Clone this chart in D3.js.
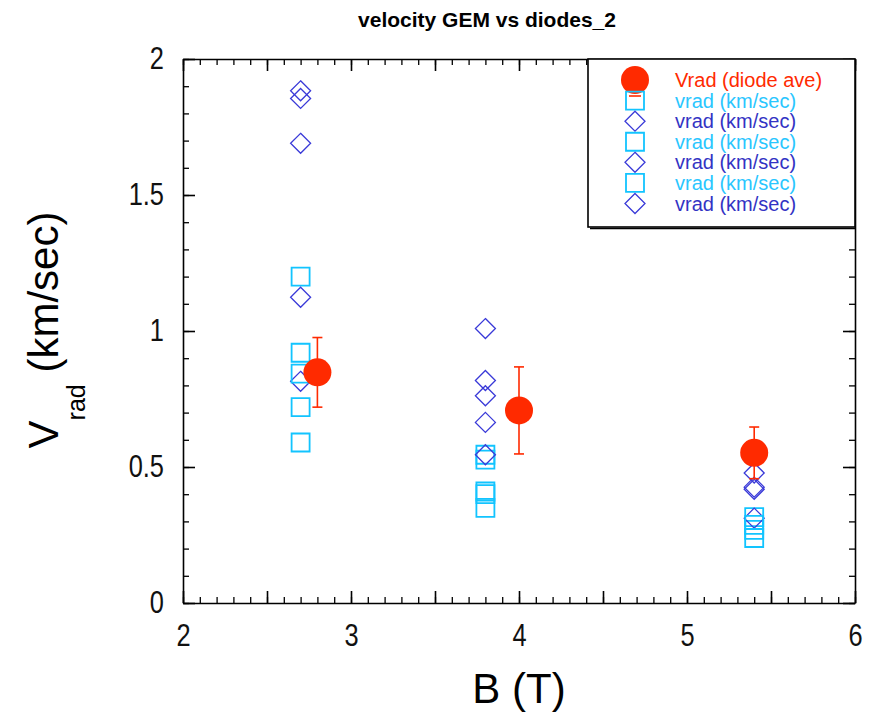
<html>
<head>
<script src="https://d3js.org/d3.v7.min.js"></script>
<style>
  body { margin: 0; background: #fff; }
  svg { display: block; font-family: "Liberation Sans", Arial, sans-serif; }
  .axis path, .axis line { stroke: #000; stroke-width: 1.6px; }
  .minor path { stroke: none; }
  .minor line { stroke: #000; stroke-width: 1.3px; }
  .axis text { font-size: 31px; fill: #111; }
</style>
</head>
<body>
<div id="chart"></div>
<script>

// --- data ---
var diodeB   = [2.8, 4.0, 5.4];
var diodeV   = [0.848, 0.708, 0.552];
var diodeErr = [0.128, 0.160, 0.095];

// three square series (light blue)
var sq1B = [2.7, 2.7, 3.8, 3.8, 5.4, 5.4];
var sq1V = [1.20, 0.72, 0.545, 0.41, 0.316, 0.269];
var sq2B = [2.7, 2.7, 3.8, 3.8, 5.4, 5.4];
var sq2V = [0.92, 0.59, 0.527, 0.35, 0.287, 0.239];
var sq3B = [2.7, 3.8];
var sq3V = [0.843, 0.40];

// three diamond series (blue)
var dm1B = [2.7, 2.7, 3.8, 3.8, 5.4, 5.4];
var dm1V = [1.883, 1.124, 1.009, 0.664, 0.478, 0.312];
var dm2B = [2.7, 2.7, 3.8, 3.8, 5.4, 5.4];
var dm2V = [1.855, 0.815, 0.818, 0.545, 0.418, 0.426];
var dm3B = [2.7, 3.8];
var dm3V = [1.69, 0.762];

var xTicks = [2, 3, 4, 5, 6];
var yTicks = [0, 0.5, 1, 1.5, 2];
var yTickLabels = ["0", "0.5", "1", "1.5", "2"];

var legendLabels = ["Vrad (diode ave)", "vrad (km/sec)", "vrad (km/sec)", "vrad (km/sec)",
                    "vrad (km/sec)", "vrad (km/sec)", "vrad (km/sec)"];

var red = "#ff2a00", cyan = "#12c4ff", blue = "#3a3ad8";

var width = 873, height = 714;
var pLeft = 183, pRight = 855, pTop = 59, pBottom = 603;
var squeeze = 0.82; // tick labels are narrow in the original

var x = d3.scaleLinear().domain([2, 6]).range([pLeft, pRight]);
var y = d3.scaleLinear().domain([0, 2]).range([pBottom, pTop]);

var svg = d3.select("#chart").append("svg")
  .attr("width", width)
  .attr("height", height);

svg.append("rect").attr("width", width).attr("height", height).attr("fill", "#fff");

// title
svg.append("text")
  .attr("x", 487)
  .attr("y", 27)
  .attr("text-anchor", "middle")
  .style("font-size", "21px")
  .style("font-weight", "bold")
  .text("velocity GEM vs diodes_2");

// minor ticks every 0.1, major every 0.5
var xMinor = d3.range(2, 6.001, 0.1).map(function(d) { return +d.toFixed(1); });
var yMinor = d3.range(0, 2.001, 0.1).map(function(d) { return +d.toFixed(1); });
var xMajor = d3.range(2, 6.001, 0.5);
var yMajor = d3.range(0, 2.001, 0.5);

function minorAxis(axis, vals) {
  return axis.tickValues(vals).tickSizeInner(-6).tickSizeOuter(0).tickFormat("");
}
function majorAxis(axis, vals) {
  return axis.tickValues(vals).tickSizeInner(-12).tickSizeOuter(0).tickFormat("");
}

svg.append("g").attr("class", "axis minor").attr("transform", "translate(0," + pBottom + ")").call(minorAxis(d3.axisBottom(x), xMinor));
svg.append("g").attr("class", "axis minor").attr("transform", "translate(0," + pTop + ")").call(minorAxis(d3.axisTop(x), xMinor));
svg.append("g").attr("class", "axis minor").attr("transform", "translate(" + pLeft + ",0)").call(minorAxis(d3.axisLeft(y), yMinor));
svg.append("g").attr("class", "axis minor").attr("transform", "translate(" + pRight + ",0)").call(minorAxis(d3.axisRight(y), yMinor));

svg.append("g").attr("class", "axis").attr("transform", "translate(0," + pTop + ")").call(majorAxis(d3.axisTop(x), xMajor));
svg.append("g").attr("class", "axis").attr("transform", "translate(" + pRight + ",0)").call(majorAxis(d3.axisRight(y), yMajor));

var xAxisG = svg.append("g").attr("class", "axis")
  .attr("transform", "translate(0," + pBottom + ")")
  .call(d3.axisBottom(x).tickValues(xMajor).tickSizeInner(-12).tickSizeOuter(0).tickPadding(21)
    .tickFormat(function(d) { return xTicks.indexOf(d) >= 0 ? d : ""; }));
xAxisG.selectAll("text").attr("transform", "scale(" + squeeze + ",1)");

var yAxisG = svg.append("g").attr("class", "axis")
  .attr("transform", "translate(" + pLeft + ",0)")
  .call(d3.axisLeft(y).tickValues(yMajor).tickSizeInner(-12).tickSizeOuter(0).tickPadding(19)
    .tickFormat(function(d) { return yTickLabels[yTicks.indexOf(d)]; }));
yAxisG.selectAll("text")
  .attr("x", -19 / squeeze)
  .attr("transform", "scale(" + squeeze + ",1)");

// axis titles
svg.append("text")
  .attr("x", (pLeft + pRight) / 2)
  .attr("y", 703)
  .attr("text-anchor", "middle")
  .style("font-size", "42px")
  .text("B (T)");

var yl = svg.append("text")
  .attr("transform", "translate(58,330) rotate(-90)")
  .attr("text-anchor", "middle")
  .style("font-size", "42px");
yl.append("tspan").text("V");
yl.append("tspan").attr("dy", 27).style("font-size", "25px").text("rad");
yl.append("tspan").attr("dy", -27).text(" (km/sec)");

// markers
var squareSym = d3.symbol().type(d3.symbolSquare).size(18 * 18);
var diamondPath = function(s) { return "M0," + (-s) + "L" + s + ",0L0," + s + "L" + (-s) + ",0Z"; };

function drawSquares(bs, vs) {
  svg.append("g").selectAll("path")
    .data(d3.zip(bs, vs))
    .join("path")
    .attr("d", squareSym)
    .attr("transform", function(d) { return "translate(" + x(d[0]) + "," + y(d[1]) + ")"; })
    .attr("fill", "none")
    .attr("stroke", cyan)
    .attr("stroke-width", 1.8);
}
function drawDiamonds(bs, vs) {
  svg.append("g").selectAll("path")
    .data(d3.zip(bs, vs))
    .join("path")
    .attr("d", diamondPath(10))
    .attr("transform", function(d) { return "translate(" + x(d[0]) + "," + y(d[1]) + ")"; })
    .attr("fill", "none")
    .attr("stroke", blue)
    .attr("stroke-width", 1.3);
}

drawSquares(sq1B, sq1V);
drawDiamonds(dm1B, dm1V);
drawSquares(sq2B, sq2V);
drawDiamonds(dm2B, dm2V);
drawSquares(sq3B, sq3V);
drawDiamonds(dm3B, dm3V);

// diode average with error bars
var diode = d3.zip(diodeB, diodeV, diodeErr);
var eb = svg.append("g").attr("stroke", red).attr("stroke-width", 1.6);
eb.selectAll(".v").data(diode).join("line")
  .attr("x1", function(d) { return x(d[0]); })
  .attr("x2", function(d) { return x(d[0]); })
  .attr("y1", function(d) { return y(d[1] - d[2]); })
  .attr("y2", function(d) { return y(d[1] + d[2]); });
[-1, 1].forEach(function(s) {
  eb.selectAll(".c" + s).data(diode).join("line")
    .attr("x1", function(d) { return x(d[0]) - 5; })
    .attr("x2", function(d) { return x(d[0]) + 5; })
    .attr("y1", function(d) { return y(d[1] + s * d[2]); })
    .attr("y2", function(d) { return y(d[1] + s * d[2]); });
});
svg.append("g").selectAll("circle").data(diode).join("circle")
  .attr("cx", function(d) { return x(d[0]); })
  .attr("cy", function(d) { return y(d[1]); })
  .attr("r", 14)
  .attr("fill", red);

// legend box
var lx = 588, ly = pTop, lw = pRight - 588, lh = 227 - pTop;
var lg = svg.append("g");
lg.append("rect").attr("x", lx).attr("y", ly).attr("width", lw).attr("height", lh)
  .attr("fill", "#fff").attr("stroke", "#000").attr("stroke-width", 1.6);
lg.append("line").attr("x1", lx + 2).attr("x2", pRight).attr("y1", ly + lh + 1.5).attr("y2", ly + lh + 1.5)
  .attr("stroke", "#000").attr("stroke-width", 1.6);

var rowY = d3.scaleLinear().domain([0, 6]).range([80, 203.5]);
var rows = legendLabels.map(function(t, i) { return { t: t, i: i }; });
lg.selectAll("text").data(rows).join("text")
  .attr("x", 675)
  .attr("y", function(d) { return rowY(d.i); })
  .attr("dy", "0.35em")
  .style("font-size", "20px")
  .attr("fill", function(d) { return d.i === 0 ? red : (d.i % 2 ? "#2ac6ff" : "#3333c4"); })
  .text(function(d) { return d.t; });

lg.append("line").attr("x1", 629).attr("x2", 641).attr("y1", rowY(0) + 16).attr("y2", rowY(0) + 16)
  .attr("stroke", red).attr("stroke-width", 1.6);
lg.append("circle").attr("cx", 635).attr("cy", rowY(0)).attr("r", 14).attr("fill", red);
rows.slice(1).forEach(function(d) {
  if (d.i % 2) {
    lg.append("path").attr("d", squareSym).attr("transform", "translate(635," + rowY(d.i) + ")")
      .attr("fill", "none").attr("stroke", cyan).attr("stroke-width", 1.8);
  } else {
    lg.append("path").attr("d", diamondPath(10)).attr("transform", "translate(635," + rowY(d.i) + ")")
      .attr("fill", "none").attr("stroke", blue).attr("stroke-width", 1.3);
  }
});

</script>
</body>
</html>
